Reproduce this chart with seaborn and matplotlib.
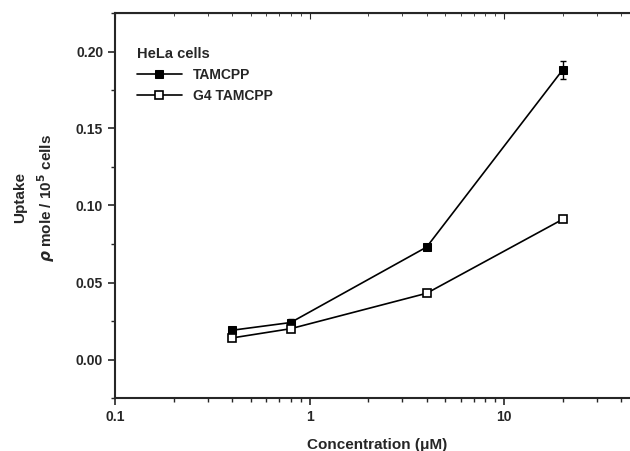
import numpy as np
import pandas as pd
import seaborn as sns
import matplotlib.pyplot as plt
import matplotlib.ticker as tkr

# data
conc = [0.4, 0.8, 4, 20]
tamcpp = [0.019, 0.024, 0.073, 0.188]
tamcpp_err = [0.002, 0.002, 0.001, 0.006]
g4_tamcpp = [0.014, 0.020, 0.043, 0.091]
g4_err = [0.001, 0.001, 0.001, 0.001]

df = pd.DataFrame({
    "conc": conc * 2,
    "uptake": tamcpp + g4_tamcpp,
    "series": ["TAMCPP"] * 4 + ["G4 TAMCPP"] * 4,
})

sns.set_style("ticks")
plt.rcParams['font.family'] = ['Liberation Sans', 'DejaVu Sans']
plt.rcParams['font.weight'] = 'bold'

fig = plt.figure(figsize=(6.3, 4.51), dpi=100)
ax = fig.add_axes([115 / 630, 53 / 451, 525 / 630, 385 / 451])

# error bars first so markers sit on top
ax.errorbar(conc, tamcpp, yerr=tamcpp_err, fmt="none", ecolor="black", elinewidth=1,
            capsize=2.5, zorder=1)
ax.errorbar(conc, g4_tamcpp, yerr=g4_err, fmt="none", ecolor="black", elinewidth=1,
            capsize=2.5, zorder=1)

sns.lineplot(data=df[df.series == "TAMCPP"], x="conc", y="uptake", ax=ax,
             color="black", lw=1.2, marker="s", markersize=6, zorder=3,
             markerfacecolor="black", markeredgecolor="black", label="TAMCPP")
sns.lineplot(data=df[df.series == "G4 TAMCPP"], x="conc", y="uptake", ax=ax,
             color="black", lw=1.2, marker="s", markersize=6, zorder=3,
             markerfacecolor="white", markeredgecolor="black", markeredgewidth=1.2,
             label="G4 TAMCPP")

ax.set_xscale("log")
ax.set_xlim(0.1, 50)
ax.set_ylim(-0.025, 0.225)
ax.yaxis.set_major_locator(tkr.MultipleLocator(0.05))
ax.yaxis.set_minor_locator(tkr.MultipleLocator(0.025))
ax.yaxis.set_major_formatter(tkr.FormatStrFormatter("%.2f"))
ax.xaxis.set_major_formatter(tkr.FuncFormatter(lambda v, p: f"{v:g}"))
ax.xaxis.set_minor_formatter(tkr.NullFormatter())

for s in ax.spines.values():
    s.set_linewidth(1.5)
ax.tick_params(axis="both", which="major", length=5, width=1.2, labelsize=10, direction="out")
ax.tick_params(axis="both", which="minor", length=3, width=1.0, direction="out")

# top axis: inward ticks, no labels
sec = ax.secondary_xaxis("top")
sec.set_xscale("log")
sec.tick_params(which="both", direction="in", labeltop=False, length=4)
sec.tick_params(which="minor", length=2.5)
sec.xaxis.set_major_formatter(tkr.NullFormatter())
sec.xaxis.set_minor_formatter(tkr.NullFormatter())

ax.set_xlabel("Concentration (\u03bcM)", fontsize=11, fontweight="bold", labelpad=10)
ax.set_ylabel("Uptake\n$\\rho$ mole / 10$^5$ cells", fontsize=11, fontweight="bold",
              linespacing=1.5)
ax.yaxis.set_label_coords(-0.11, 0.52)

leg = ax.legend(title="HeLa cells", loc="upper left", frameon=False,
                fontsize=10, title_fontsize=10.5, handlelength=3.2,
                bbox_to_anchor=(0.0, 0.97), borderaxespad=1.2, labelspacing=0.5)
leg._legend_box.align = "left"
leg.get_title().set_fontweight("bold")

fig.savefig("out.png", dpi=100)
